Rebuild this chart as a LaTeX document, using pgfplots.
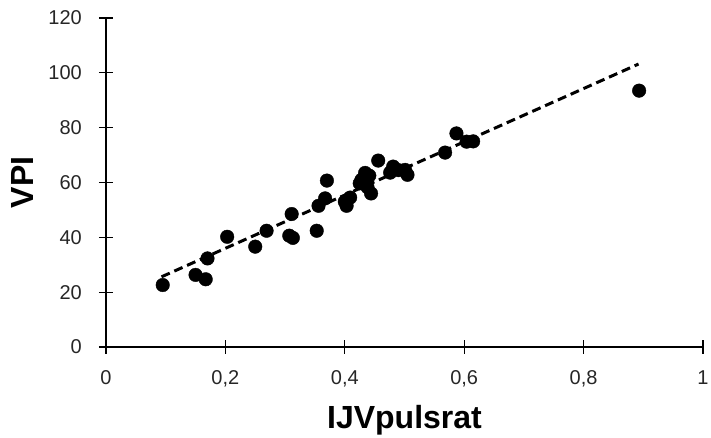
\documentclass[border=0pt]{standalone}
\usepackage{fontspec}
\setmainfont{Liberation Sans}
\usepackage{pgfplots}
\pgfplotsset{compat=1.18}

\begin{document}
\begin{tikzpicture}
\useasboundingbox (-106pt,-91pt) rectangle (605pt,347pt);
\begin{axis}[
  scale only axis,
  width=597pt, height=329pt,
  xmin=0, xmax=1, ymin=0, ymax=120,
  enlargelimits=false,
  axis x line=bottom, axis y line=left,
  axis line style={-, line width=1.2pt, black},
  xtick={0,0.2,0.4,0.6,0.8,1},
  xticklabels={0,{0,2},{0,4},{0,6},{0,8},1},
  ytick={0,20,40,60,80,100,120},
  yticklabels={0,20,40,60,80,100,120},
  tick align=center,
  major tick length=14pt,
  tick style={line width=1.2pt, black},
  tick label style={font=\fontsize{20}{24}\selectfont, text=black!85},
  xticklabel style={anchor=base, yshift=-30pt},
  yticklabel style={anchor=east, inner sep=0pt, xshift=-17pt},
  xlabel={IJVpulsrat},
  ylabel={VPI},
  label style={font=\fontsize{32}{38}\selectfont\bfseries},
  xlabel style={at={(axis description cs:0.5,0)}, anchor=base, yshift=-81pt},
  ylabel style={at={(axis description cs:0,0.5)}, anchor=center, yshift=84pt},
  clip=false,
]
% trend line
\addplot[black, line width=3pt, dash pattern=on 9pt off 5pt, no marks]
  coordinates {(0.093,25.6)(0.892,103.2)};
% measurements
\addplot[only marks, mark=*, mark size=6.8pt, black] coordinates {
  (0.095,22.6)(0.150,26.3)(0.167,24.7)(0.170,32.3)(0.203,40.2)
  (0.250,36.6)(0.269,42.4)(0.311,48.5)(0.307,40.6)(0.313,39.8)
  (0.353,42.4)(0.356,51.5)(0.367,54.2)(0.370,60.7)(0.400,53.0)
  (0.403,51.5)(0.409,54.5)(0.425,59.7)(0.428,61.0)(0.434,63.5)
  (0.438,58.3)(0.444,56.0)(0.441,62.5)(0.456,68.0)(0.476,63.6)
  (0.481,65.8)(0.490,64.5)(0.501,64.6)(0.505,62.8)(0.568,70.9)
  (0.587,77.9)(0.604,74.9)(0.615,75.0)(0.893,93.5)};
\end{axis}
\end{tikzpicture}
\end{document}
